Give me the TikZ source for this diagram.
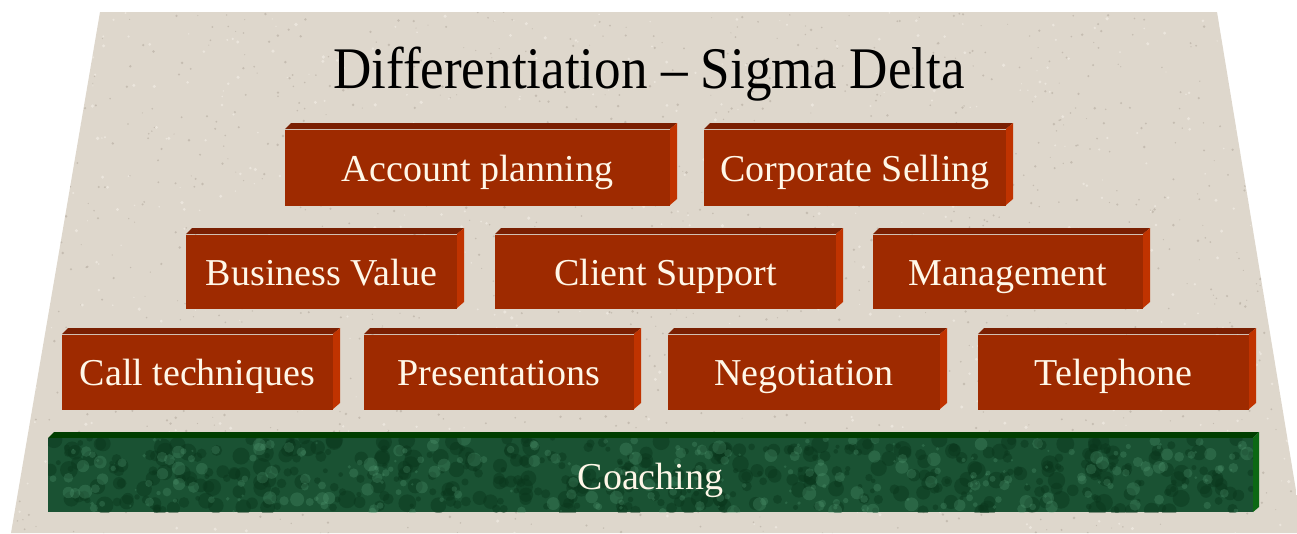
\documentclass[tikz,border=0pt]{standalone}
\usepackage{fontspec}
\setmainfont{Liberation Serif}
\usetikzlibrary{calc}

\definecolor{stone}{HTML}{DED7CC}
\definecolor{stonedark}{HTML}{ADA397}
\definecolor{stonelight}{HTML}{F1ECE4}
\definecolor{brickface}{HTML}{9E2A00}
\definecolor{bricktop}{HTML}{7A1F02}
\definecolor{brickside}{HTML}{C03300}
\definecolor{cream}{HTML}{FFF7E8}
\definecolor{marble}{HTML}{1A5233}
\definecolor{marblelight}{HTML}{5AA47C}
\definecolor{marbledark}{HTML}{0A361C}
\definecolor{greentop}{HTML}{003E00}
\definecolor{greenside}{HTML}{0C6814}

\tikzset{
  facebox/.style={fill=brickface, draw=none, inner sep=0pt, outer sep=0pt},
  bricklabel/.style={text=cream, font=\fontsize{38}{42}\selectfont,
    text height=26pt, text depth=0pt},
  titletext/.style={text=black, font=\fontsize{59}{64}\selectfont, inner sep=0pt},
}

% #1 name, #2 left, #3 top, #4 right, #5 bottom, #6 label
\newcommand{\drawbrick}[6]{%
  \fill[bricktop] (#2,#3+6) -- (#2+6,#3) -- (#4,#3) -- (#4-7,#3+6) -- cycle;
  \fill[brickside] (#4-7,#3+6) -- (#4,#3) -- (#4,#5-6) -- (#4-7,#5) -- cycle;
  \node[facebox, bricklabel, minimum width={#4-7-#2}, minimum height={#5-#3-6}]
    (#1) at ({(#2+#4-7)/2},{(#3+6+#5)/2+1}) {#6};
}

\begin{document}
\begin{tikzpicture}[x=1pt, y=-1pt]
  \useasboundingbox (0,0) rectangle (1297,533);

  % speckled stone slab
  \begin{scope}
    \clip (100,12) -- (1217,12) -- (1303,533) -- (11,533) -- cycle;
    \fill[stone] (0,0) rectangle (1310,540);
    \pgfmathsetseed{4711}
    \foreach \i in {1,...,1400}{
      \fill[stonedark, opacity=.5] (rnd*1300, 10+rnd*525) circle (0.5+rnd*0.9);
    }
    \foreach \i in {1,...,700}{
      \fill[stonelight, opacity=.7] (rnd*1300, 10+rnd*525) circle (0.6+rnd*1.2);
    }
  \end{scope}

  % title
  \node[titletext, anchor=base] (title) at (649,88)
    {\scalebox{0.9}[1]{Differentiation – Sigma Delta}};

  % top row
  \drawbrick{account}{285}{123}{677}{205}{Account planning}
  \drawbrick{corporate}{704}{123}{1013}{205}{Corporate Selling}

  % middle row
  \drawbrick{business}{186}{228}{464}{308}{Business Value}
  \drawbrick{client}{495}{228}{843}{308}{Client Support}
  \drawbrick{management}{873}{228}{1150}{308}{Management}

  % lower row
  \drawbrick{call}{62}{328}{340}{409}{Call techniques}
  \drawbrick{presentations}{364}{328}{641}{409}{Presentations}
  \drawbrick{negotiation}{668}{328}{947}{409}{Negotiation}
  \drawbrick{telephone}{978}{328}{1256}{409}{Telephone}

  % marble foundation
  \fill[greentop] (48,438) -- (54,432) -- (1259,432) -- (1253,438) -- cycle;
  \fill[greenside] (1253,438) -- (1259,432) -- (1259,507) -- (1253,512) -- cycle;
  \node[fill=marble, inner sep=0pt, outer sep=0pt, minimum width=1205pt, minimum height=74pt]
    (coaching) at (650.5,475) {};
  \begin{scope}
    \clip (coaching.south west) rectangle (coaching.north east);
    \pgfmathsetseed{2024}
    \foreach \i in {1,...,500}{
      \fill[marbledark, opacity=.45] (48+rnd*1205, 438+rnd*74) circle (2+rnd*7);
    }
    \foreach \i in {1,...,300}{
      \fill[marblelight, opacity=.25] (48+rnd*1205, 438+rnd*74) circle (1+rnd*6);
    }
  \end{scope}
  \node[bricklabel, inner sep=0pt] (coachinglabel) at (650.5,476) {Coaching};
\end{tikzpicture}
\end{document}
